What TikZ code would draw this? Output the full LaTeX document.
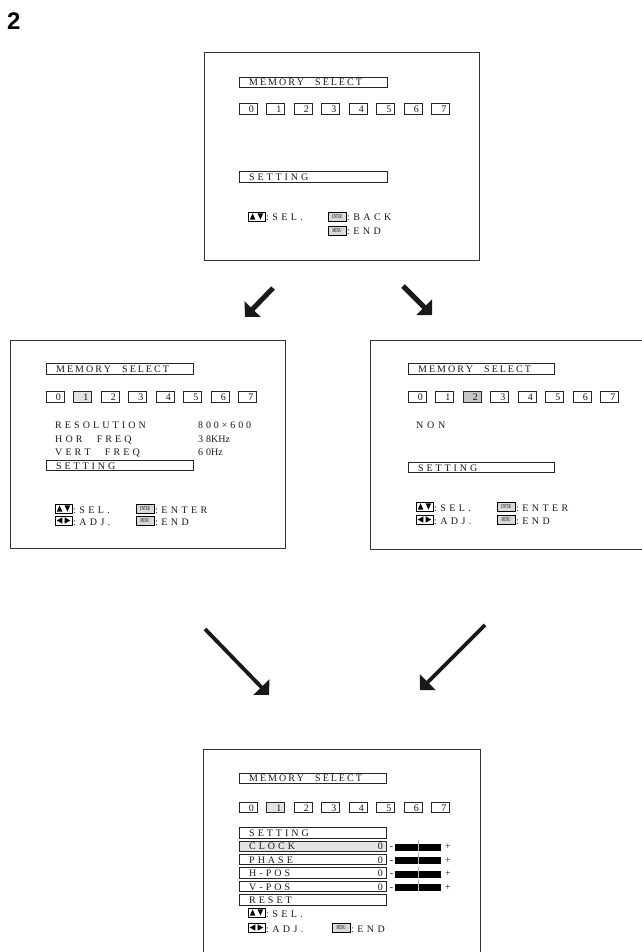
\documentclass[tikz,border=0pt]{standalone}
\usepackage{fontspec}
\setmainfont{Liberation Serif}
\newfontfamily\headfont{Liberation Sans}
\usetikzlibrary{arrows.meta}
\def\spcamt{3pt}
\newcommand\ltr[2]{\def\spcamt{#1}\ltrA#2\relax}
\def\ltrA#1{\ifx#1\relax\else#1\kern\spcamt\relax\expandafter\ltrA\fi}
\newcommand\ltrx[2]{\edef\ltrtmp{\noexpand\ltr{#1}{#2}}\ltrtmp}
\tikzset{
  frame/.style={draw=black!80, line width=0.9pt},
  obox/.style={draw=black!85, line width=0.8pt},
  osd/.style={font=\fontsize{10}{10}\selectfont, inner sep=0pt, anchor=base west, text=black!90},
  dig/.style={osd, anchor=base east},
  bigarrow/.style={draw=black!90, line width=5pt, -{Triangle[length=11pt,width=22pt]}},
  midarrow/.style={draw=black!90, line width=3.8pt, -{Triangle[length=11pt,width=22pt]}},
  updn/.pic={\draw[line width=0.6pt] (0,0) rectangle (17,9);
    \fill (1.8,7.6) -- (7.4,7.6) -- (4.6,1.4) -- cycle;
    \fill (9.6,1.4) -- (15.2,1.4) -- (12.4,7.6) -- cycle;},
  lrkey/.pic={\draw[line width=0.6pt] (0,0) rectangle (17,9);
    \fill (1.8,4.5) -- (7.4,1.3) -- (7.4,7.7) -- cycle;
    \fill (15.2,4.5) -- (9.6,1.3) -- (9.6,7.7) -- cycle;},
  keyicon/.pic={\draw[line width=0.5pt, fill=gray!30] (0,0) rectangle (18,9);
    \node[inner sep=0pt, font=\fontsize{6}{6}\selectfont] at (9,4.7) {\scalebox{0.5}[1]{#1}};}
}
\begin{document}
\begin{tikzpicture}[x=1pt,y=-1pt]
\useasboundingbox (0,0) rectangle (641,952);
\fill[white] (0,0) rectangle (641,952);
% title
\node[font=\headfont\bfseries\fontsize{24}{24}\selectfont, anchor=base west, inner sep=0pt] (title) at (7,30) {2};

% ===== top screen =====
\draw[frame] (204,52) rectangle (479,260);
\draw[obox] (239,77) rectangle (387,87);
\node[osd] (t-ms) at (249,85.5) {\ltr{2pt}{MEMORY~~SELECT}};
\foreach \i in {0,...,7}{
  \draw[obox] ({239+27.5*\i},103) rectangle +(18,11);
  \node[dig] at ({239+27.5*\i+15},112.5) {\i};
}
\draw[obox] (239,171) rectangle (387,182);
\node[osd] (t-set) at (249,180.5) {\ltr{2.9pt}{SETTING}};
\pic at (248,212) {updn};
\node[osd] (t-sel) at (266,220.5) {\ltr{3.4pt}{:SEL.}};
\pic at (328,212) {keyicon=ENTER};
\node[osd] (t-back) at (347,220.5) {\ltr{3.4pt}{:BACK}};
\pic at (328,226) {keyicon=MENU};
\node[osd] (t-end) at (347,234.5) {\ltr{3.4pt}{:END}};

% ===== left middle screen =====
\draw[frame] (10,340) rectangle (285,548);
\draw[obox] (46,363) rectangle (193,374);
\node[osd] (l-ms) at (56,372.5) {\ltr{2pt}{MEMORY~~SELECT}};
\fill[gray!22] (73.5,391) rectangle +(18,11);
\foreach \i in {0,...,7}{
  \draw[obox] ({46+27.5*\i},391) rectangle +(18,11);
  \node[dig] at ({46+27.5*\i+15},400.5) {\i};
}
\node[osd] (l-res) at (55,428) {\ltr{3.1pt}{RESOLUTION}};
\node[osd] (l-resv) at (198,428) {\ltr{2.9pt}{800×600}};
\node[osd] (l-hor) at (55,442) {\ltr{3.1pt}{HOR~~FREQ}};
\node[osd] (l-horv) at (198,442) {3\kern3pt 8KHz};
\node[osd] (l-vert) at (55,455) {\ltr{3.1pt}{VERT~~FREQ}};
\node[osd] (l-vertv) at (198,455) {6\kern3pt 0Hz};
\draw[obox] (46,460) rectangle (193,470);
\node[osd] (l-set) at (56,469) {\ltr{2.9pt}{SETTING}};
\pic at (55,504) {updn};
\node[osd] (l-sel) at (73,513) {\ltr{3.4pt}{:SEL.}};
\pic at (55,516) {lrkey};
\node[osd] (l-adj) at (73,525) {\ltr{3.4pt}{:ADJ.}};
\pic at (136,504) {keyicon=ENTER};
\node[osd] (l-ent) at (155,513) {\ltr{3.4pt}{:ENTER}};
\pic at (136,516) {keyicon=MENU};
\node[osd] (l-end) at (155,525) {\ltr{3.4pt}{:END}};

% ===== right middle screen =====
\draw[frame] (643,340) -- (370,340) -- (370,549) -- (643,549);
\draw[obox] (408,363) rectangle (554,374);
\node[osd] (r-ms) at (418,372.5) {\ltr{2pt}{MEMORY~~SELECT}};
\fill[gray!45] (463,391) rectangle +(18,11);
\foreach \i in {0,...,7}{
  \draw[obox] ({408+27.5*\i},391) rectangle +(18,11);
  \node[dig] at ({408+27.5*\i+15},400.5) {\i};
}
\node[osd] (r-non) at (416,428) {\ltr{3.7pt}{NON}};
\draw[obox] (408,462) rectangle (554,472);
\node[osd] (r-set) at (418,471) {\ltr{2.9pt}{SETTING}};
\pic at (416,502) {updn};
\node[osd] (r-sel) at (434,511) {\ltr{3.4pt}{:SEL.}};
\pic at (416,515) {lrkey};
\node[osd] (r-adj) at (434,524) {\ltr{3.4pt}{:ADJ.}};
\pic at (497,502) {keyicon=ENTER};
\node[osd] (r-ent) at (516,511) {\ltr{3.4pt}{:ENTER}};
\pic at (497,515) {keyicon=MENU};
\node[osd] (r-end) at (516,524) {\ltr{3.4pt}{:END}};

% ===== bottom screen =====
\draw[frame] (203,953) -- (203,749) -- (480,749) -- (480,953);
\draw[obox] (239,773) rectangle (386,783);
\node[osd] (b-ms) at (249,781.5) {\ltr{2pt}{MEMORY~~SELECT}};
\fill[gray!22] (266.5,802) rectangle +(18,10);
\foreach \i in {0,...,7}{
  \draw[obox] ({239+27.5*\i},802) rectangle +(18,10);
  \node[dig] at ({239+27.5*\i+15},811) {\i};
}
\fill[gray!22] (239,840.9) rectangle +(147,10.5);
\foreach \k/\lab in {0/SETTING,1/CLOCK,2/PHASE,3/H-POS,4/V-POS,5/RESET}{
  \pgfmathsetmacro\t{827.5+13.4*\k}
  \draw[obox] (239,\t) rectangle +(147,10.5);
  \node[osd] at (249,\t+9) {\ltrx{3pt}{\lab}};
}
\foreach \k in {1,...,4}{
  \pgfmathsetmacro\t{827.5+13.4*\k}
  \node[dig] at (383,\t+9) {0};
  \node[osd, anchor=base] at (391.5,\t+9) {-};
  \fill[black] (395,\t+3) rectangle (441,\t+10);
  \draw[gray!55, line width=0.9pt] (418,\t-1) -- (418,\t+10);
  \node[osd, anchor=base] at (448,\t+9) {+};
}
\pic at (248,908) {updn};
\node[osd] (b-sel) at (266,917) {\ltr{3.4pt}{:SEL.}};
\pic at (248,923) {lrkey};
\node[osd] (b-adj) at (266,932) {\ltr{3.4pt}{:ADJ.}};
\pic at (332,923) {keyicon=MENU};
\node[osd] (b-end) at (351,932) {\ltr{3.4pt}{:END}};

% ===== arrows =====
\coordinate (a1s) at (273,288); \coordinate (a1e) at (245,317);
\coordinate (a2s) at (403,286); \coordinate (a2e) at (432,315);
\coordinate (a3s) at (205,629); \coordinate (a3e) at (269,695);
\coordinate (a4s) at (485,625); \coordinate (a4e) at (420,690);
\draw[bigarrow] (a1s) -- (a1e);
\draw[bigarrow] (a2s) -- (a2e);
\draw[midarrow] (a3s) -- (a3e);
\draw[midarrow] (a4s) -- (a4e);
\end{tikzpicture}
\end{document}
